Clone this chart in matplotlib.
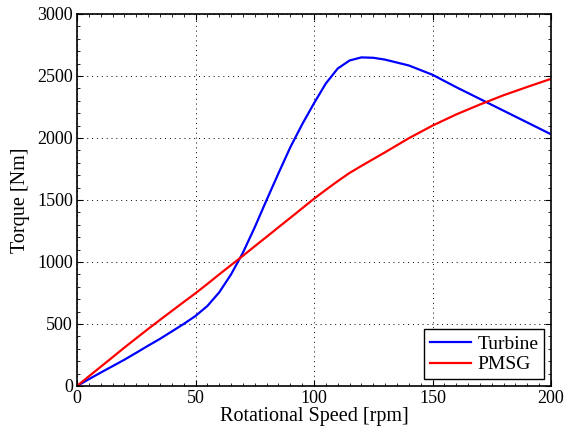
import numpy as np
import matplotlib.pyplot as plt
from matplotlib.ticker import AutoMinorLocator

# values
speed = [0, 5, 10, 15, 20, 25, 30, 35, 40, 45, 50, 55, 60, 65, 70, 75, 80, 85, 90, 95,
         100, 105, 110, 115, 120, 125, 130, 140, 150, 160, 170, 180, 190, 200]
turbine = [0, 55, 108, 160, 212, 268, 325, 380, 440, 500, 565, 645, 755, 900, 1075, 1280,
           1500, 1715, 1925, 2110, 2280, 2440, 2560, 2625, 2650, 2647, 2632, 2585, 2510,
           2410, 2315, 2220, 2125, 2030]
pmsg = [0, 78, 155, 232, 310, 385, 460, 533, 605, 677, 748, 823, 900, 975, 1050, 1127,
        1203, 1280, 1356, 1433, 1510, 1582, 1652, 1718, 1775, 1830, 1885, 1998, 2100,
        2190, 2270, 2345, 2412, 2477]

plt.rcParams['font.family'] = ['Liberation Serif', 'DejaVu Serif']
plt.rcParams['font.size'] = 13

fig = plt.figure(figsize=(5.64, 4.33), dpi=100)
ax = fig.add_axes([77/564, 47/433, 474/564, 372/433])

ax.plot(speed, turbine, color='#0000ff', lw=1.6, label='Turbine')
ax.plot(speed, pmsg, color='#ff0000', lw=1.6, label='PMSG')

ax.set_xlim(0, 200)
ax.set_ylim(0, 3000)
ax.set_xticks([0, 50, 100, 150, 200])
ax.set_yticks(np.arange(0, 3001, 500))
ax.xaxis.set_minor_locator(AutoMinorLocator(10))
ax.yaxis.set_minor_locator(AutoMinorLocator(5))
ax.tick_params(which='both', direction='in', top=True, right=True, color='black')
ax.tick_params(which='major', length=4, pad=3)
ax.tick_params(which='minor', length=2)
ax.grid(True, which='major', linestyle=(0, (1, 4)), color='black', lw=0.7)
for s in ax.spines.values():
    s.set_linewidth(1.2)

ax.set_xlabel('Rotational Speed [rpm]', fontsize=14.5, labelpad=0)
ax.set_ylabel('Torque [Nm]', fontsize=14.5, labelpad=5)

leg = ax.legend(loc='lower right', fancybox=False, framealpha=1, edgecolor='black',
                borderaxespad=0.35, handlelength=2.1, handletextpad=0.35,
                borderpad=0.3, labelspacing=0.15, fontsize=14)
leg.get_frame().set_linewidth(1.0)

fig.savefig('out.png', dpi=100)
